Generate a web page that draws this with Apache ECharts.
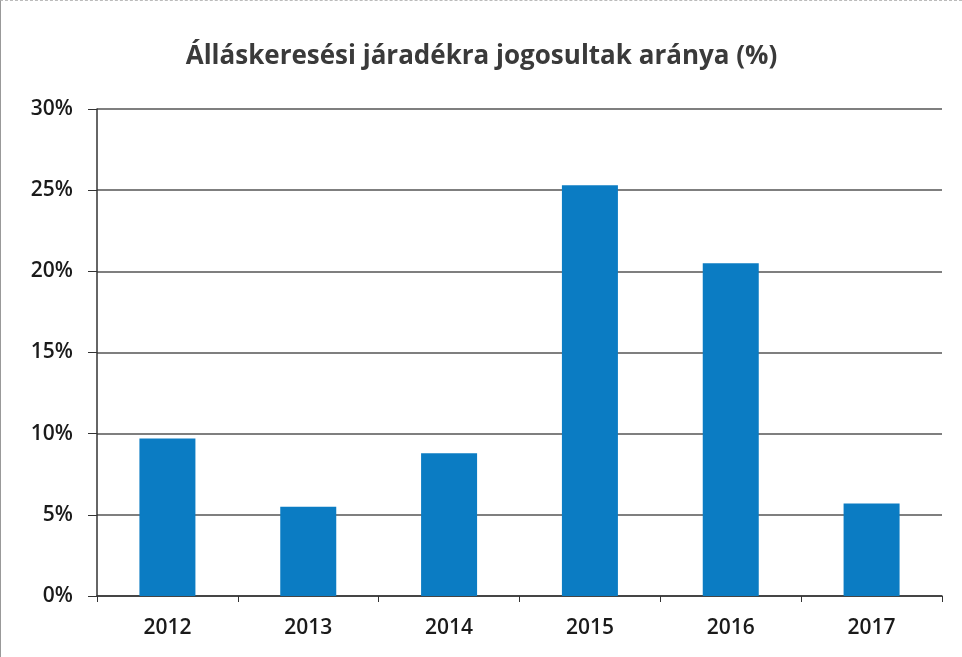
<!DOCTYPE html>
<html>
<head>
<meta charset="utf-8">
<script src="https://cdn.jsdelivr.net/npm/echarts@6/dist/echarts.min.js"></script>
<style>
  html, body { margin: 0; padding: 0; background: #fff; }
  #chart { width: 962px; height: 657px; box-sizing: border-box; border-left: 1px solid #999; border-top: 1px dashed #bbb; }
</style>
</head>
<body>
<div id="chart"></div>
<script>
const years = ['2012', '2013', '2014', '2015', '2016', '2017'];
const rates = [9.7, 5.5, 8.8, 25.3, 20.5, 5.7];
const yTicks = [0, 5, 10, 15, 20, 25, 30];

const chart = echarts.init(document.getElementById('chart'));

chart.setOption({
    title: {
        text: 'Álláskeresési járadékra jogosultak aránya (%)',
        left: 'center',
        top: 38,
        textStyle: {
            fontFamily: 'Open Sans',
            fontWeight: 'bold',
            fontSize: 26,
            color: '#3a3a3a'
        }
    },
    grid: { left: 96, right: 20, top: 108, bottom: 61 },
    xAxis: {
        type: 'category',
        data: years,
        axisLine: { lineStyle: { color: '#333', width: 1.5 } },
        axisTick: { show: true, length: 6, lineStyle: { color: '#333' } },
        axisLabel: { fontFamily: 'Open Sans', fontWeight: 600, fontSize: 21, color: '#1a1a1a', margin: 22 }
    },
    yAxis: {
        type: 'value',
        min: yTicks[0],
        max: yTicks[yTicks.length - 1],
        interval: 5,
        axisLine: { show: true, lineStyle: { color: '#333', width: 1.5 } },
        axisTick: { show: true, length: 9, lineStyle: { color: '#333' } },
        axisLabel: {
            fontFamily: 'Open Sans', fontWeight: 600, fontSize: 21, color: '#1a1a1a', margin: 24,
            formatter: v => v + '%'
        },
        splitLine: { lineStyle: { color: '#555', width: 1.5 } }
    },
    series: [{
        type: 'bar',
        data: rates,
        barWidth: 56,
        itemStyle: { color: '#0b7cc3' }
    }]
});
</script>
</body>
</html>
